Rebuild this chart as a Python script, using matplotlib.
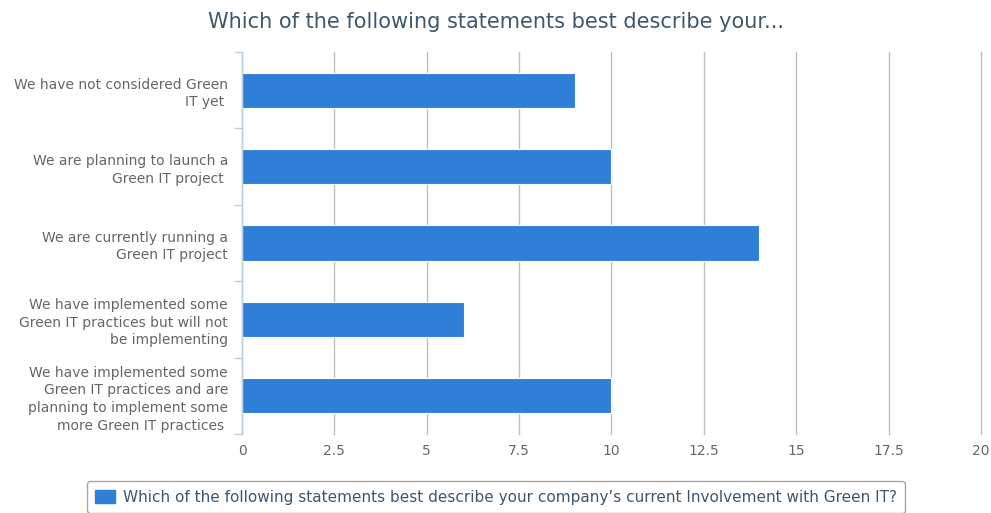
import matplotlib.pyplot as plt
from matplotlib.patches import Patch

categories = [
    "We have not considered Green\nIT yet ",
    "We are planning to launch a\nGreen IT project ",
    "We are currently running a\nGreen IT project",
    "We have implemented some\nGreen IT practices but will not\nbe implementing",
    "We have implemented some\nGreen IT practices and are\nplanning to implement some\nmore Green IT practices ",
]
values = [9, 10, 14, 6, 10]
xticks = [0, 2.5, 5, 7.5, 10, 12.5, 15, 17.5, 20]
xticklabels = ["0", "2.5", "5", "7.5", "10", "12.5", "15", "17.5", "20"]
series_name = "Which of the following statements best describe your company\u2019s current Involvement with Green IT?"
title = "Which of the following statements best describe your..."

bar_color = "#2F7ED8"
title_color = "#3E576F"
label_color = "#666666"
axis_color = "#C0D0E0"

fig = plt.figure(figsize=(9.91, 5.13), dpi=100)
ax = fig.add_axes([0.2442, 0.154, 0.7457, 0.7446])

pos = list(range(len(categories)))
ax.barh(pos, values, height=0.46, color=bar_color, edgecolor="white", linewidth=0.8, zorder=3)
ax.set_ylim(len(categories) - 0.5, -0.5)
ax.set_xlim(0, 20)

ax.set_xticks(xticks)
ax.set_xticklabels(xticklabels, color=label_color, fontsize=10)
ax.tick_params(axis="x", length=0, pad=7)
ax.grid(axis="x", color="#C0C0C0", linewidth=1, zorder=0)
for gl in ax.get_xgridlines():
    gl.set_clip_on(False)

# category labels centred, tick marks on the boundaries
ax.set_yticks(pos)
ax.set_yticklabels(categories, color=label_color, fontsize=10, linespacing=1.33)
ax.tick_params(axis="y", length=0, pad=10)
for b in [i - 0.5 for i in range(len(categories) + 1)]:
    ax.plot([-0.19, 0], [b, b], color=axis_color, lw=1, clip_on=False, zorder=4)

for s in ["top", "right", "bottom"]:
    ax.spines[s].set_visible(False)
ax.spines["left"].set_color(axis_color)
ax.spines["left"].set_linewidth(1)
ax.spines["left"].set_zorder(4)

fig.text(0.5, 0.957, title, ha="center", va="center", fontsize=15, color=title_color)

leg = fig.legend([Patch(facecolor=bar_color, edgecolor=bar_color)], [series_name],
                 loc="upper center", bbox_to_anchor=(0.5005, 0.077), fontsize=11,
                 frameon=True, fancybox=True, handlelength=1.3, handleheight=1.0,
                 handletextpad=0.5, borderpad=0.55, labelcolor=title_color)
leg.get_frame().set_edgecolor("#909090")
leg.get_frame().set_linewidth(1)

fig.savefig("out.png", dpi=100, facecolor="white")
